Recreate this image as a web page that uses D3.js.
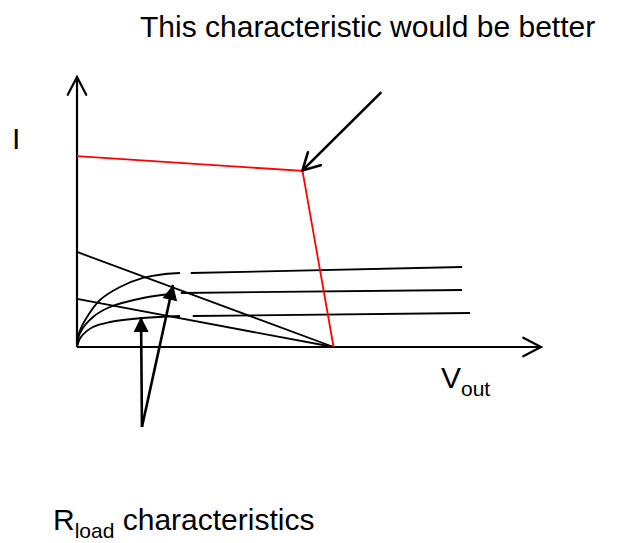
<!DOCTYPE html>
<html>
<head>
<meta charset="utf-8">
<script src="https://cdn.jsdelivr.net/npm/d3@7"></script>
<style>
  html, body { margin: 0; padding: 0; background: #fff; }
  svg { display: block; }
  text { font-family: "Liberation Sans", Arial, sans-serif; fill: #000; }
</style>
</head>
<body>
<svg id="chart" width="626" height="543"></svg>
<script>
// Ideal source characteristic (constant current, then current limit)
const idealCurve = [[0, 70.7], [48.6, 65.2], [55.3, 0]];

// Load lines
const loadLines = [
  [[0, 35.2], [55.3, 0]],
  [[0, 17.8], [55.3, 0]]
];

// Output characteristics: rising knee part, then flat part after a short break
const outputKnees = [
  [[0, 0], [0.43, 5.19], [2.16, 11.11], [4.96, 17.41], [9.27, 22.22], [14.22, 25.56], [18.97, 27.04], [22.2, 27.41]],
  [[0, 0], [0.65, 5.19], [3.45, 11.11], [7.11, 14.81], [14.22, 18.15], [20.04, 19.63]],
  [[0, 0], [0.86, 3.7], [3.45, 7.41], [7.11, 9.26], [14.22, 10.74], [22.2, 11.48]]
];
const outputFlats = [
  [[24.52, 27.41], [83.0, 29.63]],
  [[22.37, 20.0], [83.0, 21.11]],
  [[24.95, 11.48], [84.73, 12.59]]
];

// Annotation arrows: [start, tip]
const betterArrow = [[65.6, 94.4], [48.6, 65.4]];
const loadArrows = [
  [[14.0, -29.6], [13.8, 11.1]],
  [[14.0, -29.6], [20.7, 23.0]]
];

// Labels
const titleText = "This characteristic would be better";
const yLabel = "I";
const xLabelMain = "V", xLabelSub = "out";
const loadLabelMain = "R", loadLabelSub = "load", loadLabelRest = " characteristics";

const svg = d3.select("#chart");
const x = d3.scaleLinear().domain([0, 100]).range([77, 541]);
const y = d3.scaleLinear().domain([0, 100]).range([347, 77]);

const line = d3.line().x(d => x(d[0])).y(d => y(d[1]));
const smooth = d3.line().x(d => x(d[0])).y(d => y(d[1])).curve(d3.curveCatmullRom.alpha(0.5));

// open "V" arrowhead at the tip of a segment
function openHead(p0, p1, len, ang) {
  const x0 = x(p0[0]), y0 = y(p0[1]), x1 = x(p1[0]), y1 = y(p1[1]);
  const a = Math.atan2(y1 - y0, x1 - x0);
  const a1 = a + Math.PI - ang, a2 = a + Math.PI + ang;
  return `M${x1 + len * Math.cos(a1)},${y1 + len * Math.sin(a1)}L${x1},${y1}L${x1 + len * Math.cos(a2)},${y1 + len * Math.sin(a2)}`;
}
// filled triangular arrowhead
function filledHead(p0, p1, len, halfW) {
  const x0 = x(p0[0]), y0 = y(p0[1]), x1 = x(p1[0]), y1 = y(p1[1]);
  const a = Math.atan2(y1 - y0, x1 - x0);
  const bx = x1 - len * Math.cos(a), by = y1 - len * Math.sin(a);
  const nx = -Math.sin(a), ny = Math.cos(a);
  return `M${x1},${y1}L${bx + halfW * nx},${by + halfW * ny}L${bx - halfW * nx},${by - halfW * ny}Z`;
}

// axes
const axes = [[[0, 0], [0, 100]], [[0, 0], [100, 0]]];
axes.forEach(seg => {
  svg.append("path").attr("d", line(seg)).attr("stroke", "#000").attr("stroke-width", 2.2).attr("fill", "none");
  svg.append("path").attr("d", openHead(seg[0], seg[1], 20, 0.48))
    .attr("stroke", "#000").attr("stroke-width", 2.2).attr("fill", "none").attr("stroke-linecap", "round");
});

// load lines
loadLines.forEach(seg => {
  svg.append("path").attr("d", line(seg)).attr("stroke", "#000").attr("stroke-width", 1.8).attr("fill", "none");
});

// output characteristics
outputKnees.forEach(pts => {
  svg.append("path").attr("d", smooth(pts)).attr("stroke", "#000").attr("stroke-width", 1.8).attr("fill", "none");
});
outputFlats.forEach(seg => {
  svg.append("path").attr("d", line(seg)).attr("stroke", "#000").attr("stroke-width", 1.8).attr("fill", "none");
});

// ideal characteristic
svg.append("path").attr("d", line(idealCurve)).attr("stroke", "#ff0000").attr("stroke-width", 1.8).attr("fill", "none");

// arrow pointing at the knee of the ideal characteristic
svg.append("path").attr("d", line(betterArrow)).attr("stroke", "#000").attr("stroke-width", 2.6).attr("fill", "none");
svg.append("path").attr("d", openHead(betterArrow[0], betterArrow[1], 19, 0.5))
  .attr("stroke", "#000").attr("stroke-width", 2.6).attr("fill", "none").attr("stroke-linecap", "round");

// arrows pointing at the load lines
loadArrows.forEach(seg => {
  svg.append("path").attr("d", line(seg)).attr("stroke", "#000").attr("stroke-width", 2.6).attr("fill", "none");
  svg.append("path").attr("d", filledHead(seg[0], seg[1], 15, 7.5)).attr("fill", "#000");
});

// texts
svg.append("text").attr("x", 140).attr("y", 37).attr("font-size", 30).text(titleText);
svg.append("text").attr("x", 12).attr("y", 149).attr("font-size", 30).text(yLabel);

const vt = svg.append("text").attr("x", 441).attr("y", 388).attr("font-size", 30);
vt.append("tspan").text(xLabelMain);
vt.append("tspan").attr("font-size", 21).attr("dy", 8).text(xLabelSub);

const rt = svg.append("text").attr("x", 53).attr("y", 530).attr("font-size", 30);
rt.append("tspan").text(loadLabelMain);
rt.append("tspan").attr("font-size", 21).attr("dy", 8).text(loadLabelSub);
rt.append("tspan").attr("dy", -8).text(loadLabelRest);
</script>
</body>
</html>
